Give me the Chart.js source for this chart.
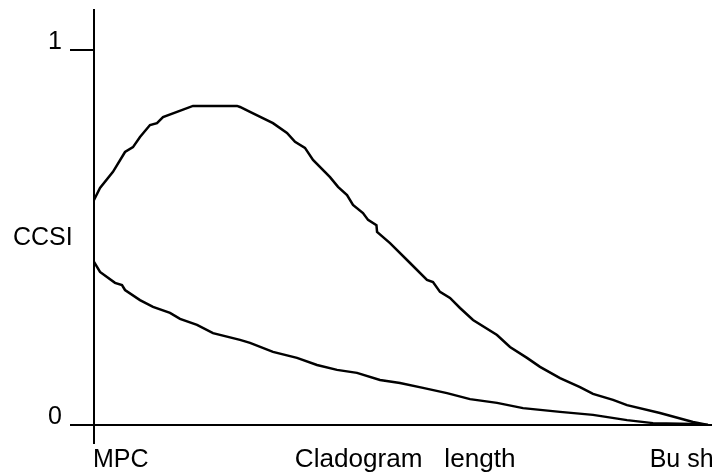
<!DOCTYPE html>
<html>
<head>
<meta charset="utf-8">
<script src="https://cdn.jsdelivr.net/npm/chart.js@4/dist/chart.umd.min.js"></script>
<style>
  html, body { margin: 0; padding: 0; background: #fff; }
  #wrap { width: 712px; height: 474px; }
</style>
</head>
<body>
<div id="wrap"><canvas id="c" width="712" height="474"></canvas></div>
<script>
// Cladogram length runs from MPC (0) to Bush (100); CCSI from 0 to 1.
const upperX = [0, 0.98, 3.09, 5.05, 6.35, 7.49, 9.12, 10.26, 11.24, 13.52, 16.12, 23.29, 23.78, 25.41, 29.15, 31.43, 32.74, 34.36, 35.67, 38.44, 39.74, 41.21, 42.18, 43.81, 44.63, 46.0, 46.1, 48.21, 51.47, 54.23, 55.21, 56.35, 57.98, 59.61, 61.73, 65.64, 67.75, 70.52, 72.64, 75.90, 79.15, 81.27, 84.53, 86.81, 92.18, 97.56, 100];
const upperY = [0.600, 0.632, 0.675, 0.728, 0.741, 0.768, 0.800, 0.805, 0.821, 0.835, 0.851, 0.851, 0.848, 0.835, 0.805, 0.779, 0.755, 0.739, 0.707, 0.661, 0.635, 0.613, 0.587, 0.565, 0.547, 0.533, 0.515, 0.485, 0.432, 0.387, 0.381, 0.355, 0.339, 0.312, 0.280, 0.240, 0.208, 0.179, 0.155, 0.125, 0.101, 0.083, 0.067, 0.053, 0.032, 0.008, 0];

const lowerX = [0, 0.98, 3.42, 4.56, 5.05, 7.49, 9.61, 12.38, 14.01, 16.78, 19.38, 23.78, 25.41, 29.15, 33.06, 36.32, 39.58, 42.83, 46.58, 49.84, 53.58, 57.49, 61.24, 65.64, 69.87, 75.90, 81.27, 86.81, 91.04, 97.56, 100];
const lowerY = [0.435, 0.408, 0.379, 0.373, 0.360, 0.333, 0.315, 0.299, 0.283, 0.267, 0.245, 0.227, 0.219, 0.195, 0.179, 0.160, 0.147, 0.139, 0.120, 0.112, 0.099, 0.085, 0.069, 0.059, 0.045, 0.035, 0.027, 0.013, 0.005, 0.003, 0];

const yTickValues = [0, 1];
const yTickLabels = ['0', '1'];
const yAxisTitle = 'CCSI';
const xStartLabel = 'MPC';
const xAxisTitle = 'Cladogram   length';
const xEndLabel = 'Bu sh';

const FONT = '"Liberation Sans", Arial, sans-serif';

function toPoints(xs, ys) {
  return xs.map((x, i) => ({ x: x, y: ys[i] }));
}

// Free-standing axis captions drawn relative to the scales.
const captions = {
  id: 'captions',
  afterDraw(chart) {
    const ctx = chart.ctx;
    const xs = chart.scales.x;
    const ys = chart.scales.y;
    const x0 = xs.getPixelForValue(0);
    const y0 = ys.getPixelForValue(0);
    ctx.save();
    ctx.fillStyle = '#000';
    ctx.font = '25px ' + FONT;
    ctx.textAlign = 'left';
    ctx.textBaseline = 'alphabetic';
    ctx.fillText(yAxisTitle, 13, ys.getPixelForValue(0.48));
    ctx.fillText(xStartLabel, x0 - 1, y0 + 42);
    ctx.fillText(xEndLabel, xs.getPixelForValue(90.5), y0 + 42);
    // the axis title is set slightly wider than the other captions
    ctx.translate(xs.getPixelForValue(32.7), y0 + 42);
    ctx.scale(1.045, 1);
    ctx.fillText(xAxisTitle, 0, 0);
    ctx.restore();
  }
};

new Chart(document.getElementById('c'), {
  type: 'line',
  data: {
    datasets: [
      {
        data: toPoints(upperX, upperY),
        borderColor: '#000',
        borderWidth: 2.5,
        pointRadius: 0,
        tension: 0,
        fill: false
      },
      {
        data: toPoints(lowerX, lowerY),
        borderColor: '#000',
        borderWidth: 2.5,
        pointRadius: 0,
        tension: 0,
        fill: false
      }
    ]
  },
  options: {
    responsive: false,
    animation: false,
    devicePixelRatio: 1,
    layout: { padding: { left: 48, top: 10, right: 0, bottom: 30 } },
    plugins: { legend: { display: false }, tooltip: { enabled: false } },
    scales: {
      x: {
        type: 'linear',
        position: 'bottom',
        min: 0,
        max: 100.65,
        afterBuildTicks(scale) { scale.ticks = [{ value: 0 }]; },
        ticks: { display: false },
        grid: {
          drawOnChartArea: false,
          drawTicks: true,
          tickLength: 19,
          color: '#000',
          lineWidth: 2
        },
        border: { display: true, color: '#000', width: 2 }
      },
      y: {
        type: 'linear',
        position: 'left',
        min: 0,
        max: 1.10667,
        afterBuildTicks(scale) { scale.ticks = yTickValues.map(v => ({ value: v })); },
        afterFit(scale) {
          scale.width = 46;
          scale.paddingTop = 0;
          scale.paddingBottom = 0;
        },
        ticks: {
          color: '#000',
          font: { family: FONT, size: 25 },
          padding: 8,
          labelOffset: -8,
          callback(value) {
            const i = yTickValues.indexOf(value);
            return i >= 0 ? yTickLabels[i] : '';
          }
        },
        grid: {
          drawOnChartArea: false,
          drawTicks: true,
          tickLength: 24,
          color: '#000',
          lineWidth: 2
        },
        border: { display: true, color: '#000', width: 2 }
      }
    }
  },
  plugins: [captions]
});
</script>
</body>
</html>
